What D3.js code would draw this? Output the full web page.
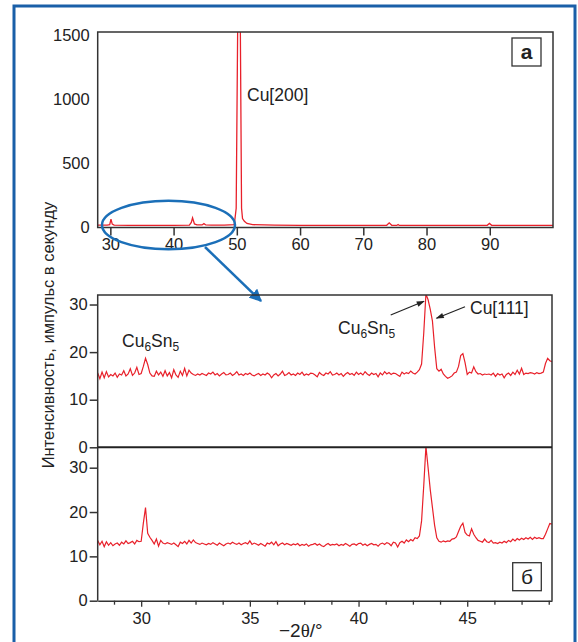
<!DOCTYPE html>
<html>
<head>
<meta charset="utf-8">
<script src="https://cdn.jsdelivr.net/npm/d3@7"></script>
<style>
  body { margin: 0; background: #fff; }
  text { font-family: "Liberation Sans", Arial, sans-serif; fill: #222; }
</style>
</head>
<body>
<div id="plot"></div>
<script>
// top panel (a): full scan, sparse points
var scanAngle = [28, 29.5, 29.9, 30.1, 30.3, 30.6, 33, 37, 40, 42.5, 42.8, 43.0, 43.3, 43.7, 44.5, 44.8, 45.1, 46, 48, 49.6,
                 49.9, 50.15, 50.35, 50.55, 50.75, 50.9, 51.2, 51.6, 52.5, 56, 60, 65, 70, 73.7, 74.1, 74.5, 75.3, 75.5, 75.7,
                 78, 82, 86, 89.6, 89.95, 90.3, 94, 100];
var scanCounts = [18, 18, 22, 65, 26, 18, 17, 17, 17, 19, 40, 76, 28, 20, 20, 30, 20, 18, 18, 22,
                  150, 1650, 1700, 1600, 150, 70, 48, 32, 22, 18, 17, 16, 16, 17, 36, 17, 16, 23, 16,
                  16, 16, 16, 17, 32, 17, 16, 16];
var scanTicks = [30, 40, 50, 60, 70, 80, 90];
var scanYTicks = [0, 500, 1000, 1500];

// zoomed panels (б): 28.0 .. 48.9 deg, sampled every 0.1
var zoomStart = 28, zoomStep = 0.1;
var upperCounts = [
  15.6, 14.4, 15.8, 14.6, 15.9, 14.8, 15.3, 15.0, 15.6, 14.7,
  15.4, 15.2, 16.1, 15.0, 15.4, 16.5, 15.1, 15.6, 16.8, 15.3,
  15.5, 17.0, 18.7, 17.4, 15.6, 15.0, 14.9, 16.0, 15.2, 15.8,
  14.9, 16.1, 15.0, 15.7, 14.6, 16.3, 15.2, 14.7, 16.0, 15.1,
  16.6, 15.0, 16.2, 15.6, 15.3, 15.1, 15.4, 15.2, 15.5, 15.3,
  15.1, 15.6, 15.4, 15.8, 15.2, 15.5, 15.0, 15.4, 15.7, 15.2,
  15.3, 15.6, 15.1, 15.4, 15.9, 15.2, 15.4, 15.1, 15.5, 15.3,
  15.6, 15.2, 15.0, 15.3, 15.5, 15.1, 15.4, 15.2, 15.6, 15.3,
  14.6, 15.2, 15.5, 15.0, 15.4, 16.0, 15.1, 15.3, 15.7, 15.2,
  15.4, 15.1, 15.6, 15.3, 15.8, 15.1, 15.4, 15.2, 15.6, 15.5,
  15.2, 14.8, 15.7, 15.3, 15.1, 15.6, 15.4, 15.9, 15.2, 15.3,
  15.6, 15.2, 15.5, 14.9, 15.4, 15.7, 15.3, 15.5, 15.1, 15.8,
  15.3, 15.6, 15.2, 15.9, 15.4, 15.1, 15.6, 15.3, 15.5, 14.8,
  15.6, 15.2, 15.9, 15.4, 15.7, 15.3, 15.6, 15.5, 15.2, 14.9,
  15.8, 15.4, 15.7, 15.5, 16.0, 15.6, 15.4, 15.8, 16.3, 17.5,
  24.0, 32.2, 31.0, 29.0, 26.5, 21.0, 16.5, 16.0, 16.4, 15.4,
  14.9, 14.5, 14.7, 15.0, 15.6, 15.8, 17.0, 19.3, 19.7, 17.8,
  15.3, 15.8, 15.6, 16.9, 15.9, 15.4, 15.5, 15.2, 15.4, 15.3,
  15.4, 15.2, 15.6, 14.9, 15.5, 15.2, 15.4, 14.6, 15.3, 15.6,
  15.1, 15.8, 15.3, 16.2, 15.4, 16.6, 15.3, 15.6, 15.5, 15.7,
  15.6, 15.4, 15.7, 15.5, 15.6, 15.8, 17.6, 18.7, 18.2, 18.0
];
var lowerCounts = [
  13.6, 12.6, 13.4, 12.2, 13.3, 12.5, 13.1, 12.4, 12.8, 13.0,
  12.5, 13.2, 12.8, 13.5, 12.9, 13.1, 13.4, 12.8, 13.6, 13.3,
  13.4, 17.5, 21.0, 15.2, 14.3, 13.6, 12.8, 13.9, 12.3, 13.6,
  13.0, 12.8, 13.1, 12.9, 12.7, 13.0, 12.6, 12.2, 13.2, 12.9,
  13.4, 12.8, 13.6, 13.0, 13.7, 13.1, 12.9, 12.7, 13.0, 12.8,
  12.6, 12.9, 12.7, 13.1, 12.8, 12.5, 13.0, 12.7, 12.4, 12.8,
  13.0, 12.8, 13.2, 12.9, 12.7, 13.0, 12.6, 12.9, 13.1, 12.8,
  13.5, 12.7, 13.0, 12.8, 12.5, 12.9, 12.6, 12.3, 13.0, 12.8,
  13.2, 12.6, 13.3, 12.4, 12.8, 13.0, 12.6, 12.9, 12.7, 12.5,
  12.8, 12.6, 12.9, 12.4, 12.7, 12.5, 12.8, 12.3, 12.6, 12.7,
  12.9, 12.5, 12.8, 12.4, 12.2, 12.6, 12.9, 12.5, 12.7, 12.6,
  12.8, 12.4, 12.7, 12.5, 12.9, 12.6, 12.3, 12.7, 12.8, 12.5,
  12.9, 13.0, 12.5, 12.8, 12.4, 12.7, 12.9, 12.6, 12.7, 12.3,
  12.8, 13.0, 12.7, 13.1, 12.9, 12.4, 13.2, 13.0, 12.1, 13.1,
  13.4, 13.0, 13.7, 13.3, 13.8, 13.5, 14.2, 14.0, 14.6, 18.0,
  26.0, 34.8, 30.0, 25.0, 21.0, 17.0, 14.2, 13.4, 13.2, 13.5,
  13.3, 13.5, 13.4, 13.9, 14.0, 14.4, 15.6, 16.8, 17.5, 15.4,
  14.8, 14.6, 16.2, 15.0, 14.2, 13.6, 13.4, 13.2, 13.9, 13.3,
  13.1, 13.6, 13.0, 13.1, 12.9, 13.2, 13.0, 13.4, 13.1, 13.6,
  13.3, 13.9, 13.5, 14.0, 13.7, 14.1, 13.8, 14.2, 13.9, 14.3,
  13.8, 14.3, 14.0, 14.2, 14.0, 14.0, 15.0, 16.2, 17.4, 17.3
];
var zoomYTicks = [0, 10, 20, 30];
var zoomLabelTicks = [30, 35, 40, 45];

var red = "#e8202a", blue = "#1b6fb8", frame = "#333";

function drawChart(){
    var svg = d3.select("#plot").append("svg")
        .attr("width", 578)
        .attr("height", 642);

    // outer blue frame
    svg.append("rect")
        .attr("x", 14).attr("y", 6)
        .attr("width", 561).attr("height", 660)
        .attr("fill", "none").attr("stroke", "#1a5fa8").attr("stroke-width", 3);

    svg.append("clipPath").attr("id", "clipTop").append("rect")
        .attr("x", 97.7).attr("y", 32).attr("width", 455.3).attr("height", 195.5);
    svg.append("clipPath").attr("id", "clipMid").append("rect")
        .attr("x", 97.7).attr("y", 295).attr("width", 454.3).attr("height", 152.3);
    svg.append("clipPath").attr("id", "clipLow").append("rect")
        .attr("x", 97.7).attr("y", 447.3).attr("width", 454.3).attr("height", 153.4);

    drawScan(svg);
    drawZoom(svg);

    // y label shared by all panels
    svg.append("text")
        .attr("transform", "translate(54,335) rotate(-90)")
        .attr("text-anchor", "middle")
        .attr("font-size", 16.5)
        .text("Интенсивность, импульс в секунду");

    // x label
    var xl = svg.append("text")
        .attr("x", 279).attr("y", 637)
        .attr("font-size", 19);
    xl.append("tspan").text("\u22122");
    xl.append("tspan").style("font-family", "'Liberation Serif', serif").text("θ");
    xl.append("tspan").text("/°");
}

var drawScan = function(svg){
    var xScale = d3.scaleLinear().domain([28, 100]).range([97.7, 553]);
    var yScale = d3.scaleLinear().domain([0, 1525]).range([227.5, 32]);

    var pts = scanAngle.map(function(a, i){ return [a, scanCounts[i]]; });
    var line = d3.line()
        .x(function(d){ return xScale(d[0]); })
        .y(function(d){ return yScale(d[1]); });

    svg.append("path").datum(pts)
        .attr("clip-path", "url(#clipTop)")
        .attr("d", line)
        .attr("fill", "none").attr("stroke", red).attr("stroke-width", 1.3);

    svg.append("rect")
        .attr("x", 97.7).attr("y", 32).attr("width", 455.3).attr("height", 195.5)
        .attr("fill", "none").attr("stroke", frame).attr("stroke-width", 1.5);

    var xAxis = d3.axisBottom(xScale).tickValues(scanTicks).tickSize(8).tickSizeOuter(0).tickPadding(3);
    var gx = svg.append("g")
        .attr("transform", "translate(0,227.5)")
        .call(xAxis);
    gx.select(".domain").remove();
    gx.selectAll("line").attr("stroke", frame).attr("stroke-width", 1.5);
    gx.selectAll("text").attr("font-size", 16.5).attr("fill", "#222");

    var yAxis = d3.axisLeft(yScale).tickValues(scanYTicks).tickFormat(d3.format("d"))
        .tickSize(0).tickPadding(8);
    var gy = svg.append("g")
        .attr("transform", "translate(97.7,0)")
        .call(yAxis);
    gy.select(".domain").remove();
    gy.selectAll("text").attr("font-size", 16.5).attr("fill", "#222");

    svg.append("text").attr("x", 247).attr("y", 101)
        .attr("font-size", 17.5).text("Cu[200]");

    svg.append("rect")
        .attr("x", 512).attr("y", 38).attr("width", 29).attr("height", 28)
        .attr("fill", "#fff").attr("stroke", frame).attr("stroke-width", 1.3);
    svg.append("text").attr("x", 526.5).attr("y", 59)
        .attr("text-anchor", "middle").attr("font-size", 21).attr("font-weight", "bold")
        .text("а");

    // blue ellipse and arrow to the zoomed panels
    svg.append("ellipse")
        .attr("cx", 168.5).attr("cy", 225).attr("rx", 66.5).attr("ry", 24.3)
        .attr("fill", "none").attr("stroke", blue).attr("stroke-width", 2.5);

    var defs = svg.append("defs");
    defs.append("marker").attr("id", "blueHead")
        .attr("viewBox", "0 0 10 10").attr("refX", 9).attr("refY", 5)
        .attr("markerWidth", 5).attr("markerHeight", 5).attr("orient", "auto")
        .attr("markerUnits", "strokeWidth")
        .append("path").attr("d", "M0,0 L10,5 L0,10 Z").attr("fill", blue);
    defs.append("marker").attr("id", "blackHead")
        .attr("viewBox", "0 0 10 10").attr("refX", 9).attr("refY", 5)
        .attr("markerWidth", 12).attr("markerHeight", 8).attr("orient", "auto")
        .attr("markerUnits", "userSpaceOnUse")
        .append("path").attr("d", "M0,1.5 L10,5 L0,8.5 Z").attr("fill", "#222");

    svg.append("line")
        .attr("x1", 205).attr("y1", 247).attr("x2", 261).attr("y2", 301)
        .attr("stroke", blue).attr("stroke-width", 2.5)
        .attr("marker-end", "url(#blueHead)");
}

var drawZoom = function(svg){
    var xScale = d3.scaleLinear().domain([28, 48.9]).range([97.7, 552]);
    var yMid = d3.scaleLinear().domain([0, 32]).range([447.3, 295]);
    var yLow = d3.scaleLinear().domain([0, 34.6]).range([600.7, 447.3]);

    var angleOf = function(i){ return zoomStart + i * zoomStep; };

    var lineMid = d3.line()
        .x(function(d, i){ return xScale(angleOf(i)); })
        .y(function(d){ return yMid(d); });
    var lineLow = d3.line()
        .x(function(d, i){ return xScale(angleOf(i)); })
        .y(function(d){ return yLow(d); });

    svg.append("path").datum(upperCounts)
        .attr("clip-path", "url(#clipMid)")
        .attr("d", lineMid)
        .attr("fill", "none").attr("stroke", red).attr("stroke-width", 1.2);
    svg.append("path").datum(lowerCounts)
        .attr("clip-path", "url(#clipLow)")
        .attr("d", lineLow)
        .attr("fill", "none").attr("stroke", red).attr("stroke-width", 1.2);

    // frames
    svg.append("path")
        .attr("d", "M97.7,600.7 V295 H552 V600.7")
        .attr("fill", "none").attr("stroke", frame).attr("stroke-width", 1.5);
    svg.append("line")
        .attr("x1", 97.7).attr("x2", 552).attr("y1", 447.3).attr("y2", 447.3)
        .attr("stroke", "#222").attr("stroke-width", 2);

    [yMid, yLow].forEach(function(sc){
        var g = svg.append("g")
            .attr("transform", "translate(97.7,0)")
            .call(d3.axisLeft(sc).tickValues(zoomYTicks).tickSize(8).tickSizeOuter(0).tickPadding(2));
        g.select(".domain").remove();
        g.selectAll("line").attr("stroke", frame).attr("stroke-width", 1.5);
        g.selectAll("text").attr("font-size", 16.5).attr("fill", "#222");
    });

    // bottom axis: ticks every 1.25 deg, labels every 5
    var tickVals = d3.range(28.75, 48.9, 1.25);
    var gx = svg.append("g")
        .attr("transform", "translate(0,600.7)")
        .call(d3.axisBottom(xScale).tickValues(tickVals).tickSizeOuter(0).tickPadding(6)
            .tickFormat(function(d){ return zoomLabelTicks.indexOf(d) >= 0 ? d : ""; }));
    gx.select(".domain").attr("stroke", frame).attr("stroke-width", 1.5);
    gx.selectAll(".tick line")
        .attr("stroke", frame).attr("stroke-width", 1.3)
        .attr("y2", function(d){ return zoomLabelTicks.indexOf(d) >= 0 ? 6 : 4; });
    gx.selectAll("text").attr("font-size", 16.5).attr("fill", "#222");

    // annotations
    var phase = function(x, y){
        var t = svg.append("text").attr("x", x).attr("y", y).attr("font-size", 17.5);
        t.append("tspan").text("Cu");
        t.append("tspan").attr("dy", 4).attr("font-size", 12).text("6");
        t.append("tspan").attr("dy", -4).text("Sn");
        t.append("tspan").attr("dy", 4).attr("font-size", 12).text("5");
    };
    phase(122, 347);
    phase(338, 334);
    svg.append("text").attr("x", 470).attr("y", 314)
        .attr("font-size", 17.5).text("Cu[111]");

    svg.append("line")
        .attr("x1", 390.7).attr("y1", 315).attr("x2", 424).attr("y2", 301.3)
        .attr("stroke", "#222").attr("stroke-width", 1.2)
        .attr("marker-end", "url(#blackHead)");
    svg.append("line")
        .attr("x1", 465).attr("y1", 306.7).attr("x2", 436.5).attr("y2", 318.2)
        .attr("stroke", "#222").attr("stroke-width", 1.2)
        .attr("marker-end", "url(#blackHead)");

    svg.append("rect")
        .attr("x", 512.7).attr("y", 562.7).attr("width", 28.6).attr("height", 28)
        .attr("fill", "#fff").attr("stroke", frame).attr("stroke-width", 1.3);
    svg.append("text").attr("x", 527).attr("y", 584)
        .attr("text-anchor", "middle").attr("font-size", 21)
        .text("б");
}

drawChart();
</script>
</body>
</html>
